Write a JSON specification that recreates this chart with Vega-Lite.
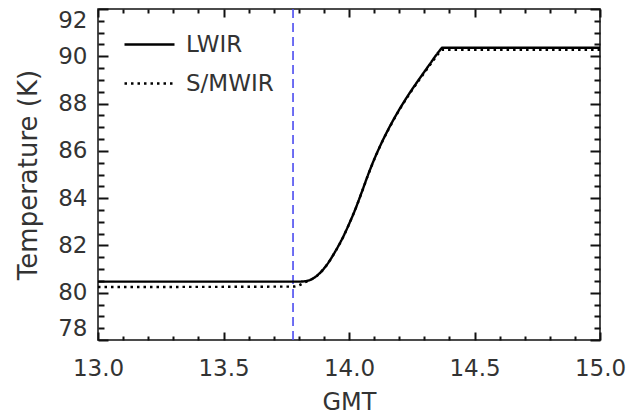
{
  "$schema": "https://vega.github.io/schema/vega-lite/v6.json",
  "width": 502,
  "height": 331,
  "autosize": {"type": "none"},
  "padding": {"left": 98, "top": 9, "right": 28, "bottom": 74},
  "background": "white",
  "config": {
    "view": {"stroke": "#111", "strokeWidth": 1.5},
    "font": "DejaVu Sans",
    "axis": {"grid": false, "labelColor": "#333", "titleColor": "#333", "labelFont": "DejaVu Sans", "titleFont": "DejaVu Sans", "labelFontSize": 23, "titleFontSize": 24, "titleFontWeight": "normal", "labelFlush": false},
    "legend": {"labelFont": "DejaVu Sans"}
  },
  "data": {
    "values": [
      {"t": 13.0, "temp": 80.47, "series": "LWIR"},
      {"t": 13.80, "temp": 80.47, "series": "LWIR"},
      {"t": 13.82, "temp": 80.48, "series": "LWIR"},
      {"t": 13.845, "temp": 80.54, "series": "LWIR"},
      {"t": 13.87, "temp": 80.70, "series": "LWIR"},
      {"t": 13.89, "temp": 80.90, "series": "LWIR"},
      {"t": 13.911, "temp": 81.17, "series": "LWIR"},
      {"t": 13.94, "temp": 81.65, "series": "LWIR"},
      {"t": 13.977, "temp": 82.37, "series": "LWIR"},
      {"t": 14.0, "temp": 82.9, "series": "LWIR"},
      {"t": 14.024, "temp": 83.5, "series": "LWIR"},
      {"t": 14.05, "temp": 84.23, "series": "LWIR"},
      {"t": 14.075, "temp": 84.96, "series": "LWIR"},
      {"t": 14.1, "temp": 85.63, "series": "LWIR"},
      {"t": 14.125, "temp": 86.23, "series": "LWIR"},
      {"t": 14.16, "temp": 86.98, "series": "LWIR"},
      {"t": 14.2, "temp": 87.74, "series": "LWIR"},
      {"t": 14.24, "temp": 88.42, "series": "LWIR"},
      {"t": 14.28, "temp": 89.04, "series": "LWIR"},
      {"t": 14.32, "temp": 89.64, "series": "LWIR"},
      {"t": 14.36, "temp": 90.22, "series": "LWIR"},
      {"t": 14.372, "temp": 90.36, "series": "LWIR"},
      {"t": 15.0, "temp": 90.36, "series": "LWIR"},
      {"t": 13.0, "temp": 80.24, "series": "S/MWIR"},
      {"t": 13.78, "temp": 80.26, "series": "S/MWIR"},
      {"t": 13.80, "temp": 80.31, "series": "S/MWIR"},
      {"t": 13.825, "temp": 80.44, "series": "S/MWIR"},
      {"t": 13.845, "temp": 80.53, "series": "S/MWIR"},
      {"t": 13.87, "temp": 80.69, "series": "S/MWIR"},
      {"t": 13.89, "temp": 80.89, "series": "S/MWIR"},
      {"t": 13.911, "temp": 81.16, "series": "S/MWIR"},
      {"t": 13.94, "temp": 81.64, "series": "S/MWIR"},
      {"t": 13.977, "temp": 82.36, "series": "S/MWIR"},
      {"t": 14.0, "temp": 82.89, "series": "S/MWIR"},
      {"t": 14.024, "temp": 83.49, "series": "S/MWIR"},
      {"t": 14.05, "temp": 84.22, "series": "S/MWIR"},
      {"t": 14.075, "temp": 84.95, "series": "S/MWIR"},
      {"t": 14.1, "temp": 85.62, "series": "S/MWIR"},
      {"t": 14.125, "temp": 86.22, "series": "S/MWIR"},
      {"t": 14.16, "temp": 86.96, "series": "S/MWIR"},
      {"t": 14.2, "temp": 87.72, "series": "S/MWIR"},
      {"t": 14.24, "temp": 88.39, "series": "S/MWIR"},
      {"t": 14.28, "temp": 89.0, "series": "S/MWIR"},
      {"t": 14.32, "temp": 89.59, "series": "S/MWIR"},
      {"t": 14.36, "temp": 90.15, "series": "S/MWIR"},
      {"t": 14.372, "temp": 90.27, "series": "S/MWIR"},
      {"t": 15.0, "temp": 90.27, "series": "S/MWIR"}
    ]
  },
  "resolve": {"scale": {"x": "independent", "y": "independent"}, "axis": {"x": "independent", "y": "independent"}},
  "layer": [
    {
      "mark": {"type": "line", "opacity": 0},
      "encoding": {
        "x": {"field": "t", "type": "quantitative", "scale": {"domain": [13, 15], "nice": false, "zero": false},
          "axis": {"orient": "bottom", "values": [13, 13.5, 14, 14.5, 15], "domain": false, "tickColor": "#111", "tickWidth": 2, "tickSize": -8, "labelOpacity": 0, "labelFontSize": 1, "title": null}},
        "y": {"field": "temp", "type": "quantitative", "scale": {"domain": [78, 92], "nice": false, "zero": false},
          "axis": {"orient": "left", "values": [78, 80, 82, 84, 86, 88, 90, 92], "domain": false, "tickColor": "#111", "tickWidth": 2, "tickSize": -10, "labelOpacity": 0, "labelFontSize": 1, "title": null}}
      }
    },
    {
      "mark": {"type": "line", "opacity": 0},
      "encoding": {
        "x": {"field": "t", "type": "quantitative", "scale": {"domain": [13, 15], "nice": false, "zero": false},
          "axis": {"orient": "bottom", "values": [13.1, 13.2, 13.3, 13.4, 13.6, 13.7, 13.8, 13.9, 14.1, 14.2, 14.3, 14.4, 14.6, 14.7, 14.8, 14.9], "domain": false, "tickColor": "#111", "tickWidth": 2, "tickSize": -4, "labelOpacity": 0, "labelFontSize": 1, "title": null}},
        "y": {"field": "temp", "type": "quantitative", "scale": {"domain": [78, 92], "nice": false, "zero": false},
          "axis": {"orient": "left", "values": [78.5, 79, 79.5, 80.5, 81, 81.5, 82.5, 83, 83.5, 84.5, 85, 85.5, 86.5, 87, 87.5, 88.5, 89, 89.5, 90.5, 91, 91.5], "domain": false, "tickColor": "#111", "tickWidth": 2, "tickSize": -6, "labelOpacity": 0, "labelFontSize": 1, "title": null}}
      }
    },
    {
      "mark": {"type": "line", "opacity": 0},
      "encoding": {
        "x": {"field": "t", "type": "quantitative", "scale": {"domain": [13, 15], "nice": false, "zero": false},
          "axis": {"orient": "top", "values": [13, 13.5, 14, 14.5, 15], "domain": false, "tickColor": "#111", "tickWidth": 2, "tickSize": -8, "labelOpacity": 0, "labelFontSize": 1, "title": null}},
        "y": {"field": "temp", "type": "quantitative", "scale": {"domain": [78, 92], "nice": false, "zero": false},
          "axis": {"orient": "right", "values": [78, 80, 82, 84, 86, 88, 90, 92], "domain": false, "tickColor": "#111", "tickWidth": 2, "tickSize": -10, "labelOpacity": 0, "labelFontSize": 1, "title": null}}
      }
    },
    {
      "mark": {"type": "line", "opacity": 0},
      "encoding": {
        "x": {"field": "t", "type": "quantitative", "scale": {"domain": [13, 15], "nice": false, "zero": false},
          "axis": {"orient": "top", "values": [13.1, 13.2, 13.3, 13.4, 13.6, 13.7, 13.8, 13.9, 14.1, 14.2, 14.3, 14.4, 14.6, 14.7, 14.8, 14.9], "domain": false, "tickColor": "#111", "tickWidth": 2, "tickSize": -4, "labelOpacity": 0, "labelFontSize": 1, "title": null}},
        "y": {"field": "temp", "type": "quantitative", "scale": {"domain": [78, 92], "nice": false, "zero": false},
          "axis": {"orient": "right", "values": [78.5, 79, 79.5, 80.5, 81, 81.5, 82.5, 83, 83.5, 84.5, 85, 85.5, 86.5, 87, 87.5, 88.5, 89, 89.5, 90.5, 91, 91.5], "domain": false, "tickColor": "#111", "tickWidth": 2, "tickSize": -6, "labelOpacity": 0, "labelFontSize": 1, "title": null}}
      }
    },
    {
      "data": {"values": [{"t": 13.777}]},
      "mark": {"type": "rule", "color": "#4b4bf0", "strokeWidth": 1.6, "strokeDash": [9, 5]},
      "encoding": {
        "x": {"field": "t", "type": "quantitative", "scale": {"domain": [13, 15], "nice": false, "zero": false}, "axis": null}
      }
    },
    {
      "mark": {"type": "line", "strokeWidth": 2.4, "color": "black", "interpolate": "monotone"},
      "encoding": {
        "x": {"field": "t", "type": "quantitative", "scale": {"domain": [13, 15], "nice": false, "zero": false},
          "axis": {"orient": "bottom", "domain": false, "values": [13, 13.5, 14, 14.5, 15], "format": ".1f", "tickSize": 0, "tickOpacity": 0, "labelPadding": 17, "title": "GMT", "titlePadding": 10}},
        "y": {"field": "temp", "type": "quantitative", "scale": {"domain": [78, 92], "nice": false, "zero": false},
          "axis": {"orient": "left", "domain": false, "values": [78, 80, 82, 84, 86, 88, 90, 92], "tickSize": 0, "tickOpacity": 0, "labelPadding": 11, "labelFlush": true, "title": "Temperature (K)", "titleFontSize": 26, "titlePadding": 16}},
        "strokeDash": {"field": "series", "type": "nominal",
          "scale": {"domain": ["LWIR", "S/MWIR"], "range": [[1, 0], [2.5, 4]]},
          "legend": {"orient": "none", "legendX": 25, "legendY": 9, "title": null, "symbolType": "stroke", "symbolSize": 2500, "symbolStrokeWidth": 2.4, "symbolStrokeColor": "black", "labelFontSize": 23, "labelColor": "#333", "labelOffset": 10, "rowPadding": -28, "padding": 0}}
      }
    }
  ]
}
